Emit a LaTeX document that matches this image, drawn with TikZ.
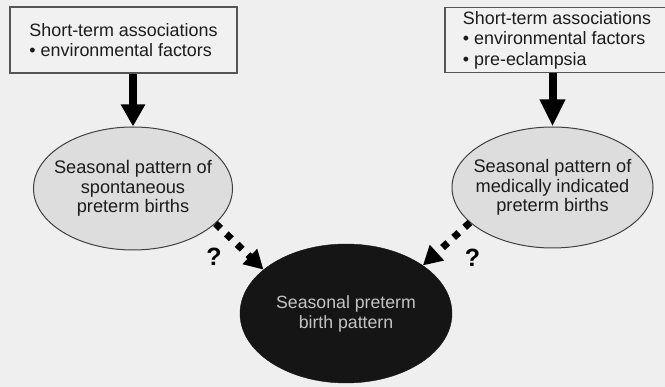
\documentclass[tikz,border=0pt]{standalone}
\usepackage{fontspec}
\setmainfont{Liberation Sans}
\usetikzlibrary{shapes.geometric,arrows.meta}
\definecolor{bg}{HTML}{EFEFEF}
\definecolor{boxfill}{HTML}{F1F1F1}
\definecolor{boxline}{HTML}{555555}
\definecolor{ellfill}{HTML}{DDDDDD}
\definecolor{ellline}{HTML}{404040}
\definecolor{darkfill}{HTML}{151515}
\definecolor{txt}{HTML}{1C1C1C}
\definecolor{lighttxt}{HTML}{C4C4C4}
\begin{document}
\begin{tikzpicture}[x=1pt,y=-1pt,
  box/.style={draw=boxline, line width=1.3pt, fill=boxfill, align=left,
    minimum height=66pt, inner xsep=0pt, text=txt,
    font=\fontsize{17.9}{20.5}\selectfont},
  ell/.style={ellipse, draw=ellline, line width=1pt, fill=ellfill, align=center,
    inner xsep=-40pt, inner ysep=-10pt, text=txt,
    font=\fontsize{18.2}{19.6}\selectfont},
  darkell/.style={ellipse, draw=darkfill, fill=darkfill, align=center,
    inner xsep=-40pt, inner ysep=-10pt, text=lighttxt,
    font=\fontsize{17.7}{20}\selectfont},
  solidarrow/.style={line width=8pt, draw=black},
  dotarrow/.style={line width=7pt, draw=black, dash pattern=on 7pt off 8pt,
    -{Triangle[width=20pt,length=19pt]}},
  qmark/.style={font=\bfseries\fontsize{25}{25}\selectfont, text=black, inner sep=0pt}
]
\clip (0,0) rectangle (665,387);
\fill[bg] (0,0) rectangle (665,387);

\node[box, minimum width=227pt] (lbox) at (123.5,40)
  {Short-term associations\\• environmental factors};
\node[box, minimum width=224pt, minimum height=64pt] (rbox) at (557,40)
  {Short-term associations\\• environmental factors\\• pre-eclampsia};

\node[ell, minimum width=199pt, minimum height=123pt] (lell) at (133,188.5)
  {Seasonal pattern of\\spontaneous\\preterm births};
\node[ell, minimum width=201pt, minimum height=121pt] (rell) at (552.5,187.5)
  {Seasonal pattern of\\medically indicated\\preterm births};
\node[darkell, minimum width=212pt, minimum height=139pt] (bell) at (346,313.5)
  {Seasonal preterm\\birth pattern};

\draw[solidarrow, -{Triangle[width=23pt,length=22pt]}] (lell.north |- lbox.south) -- (lell.north);
\draw[solidarrow, -{Triangle[width=24pt,length=27pt]}] (rell.north |- rbox.south) -- (rell.north);

\draw[dotarrow] (lell.-23) -- (bell.152);
\draw[dotarrow] (rell.203) -- (bell.32);

\node[qmark] (q1) at (214,257) {?};
\node[qmark] (q2) at (472.5,258) {?};
\end{tikzpicture}
\end{document}
